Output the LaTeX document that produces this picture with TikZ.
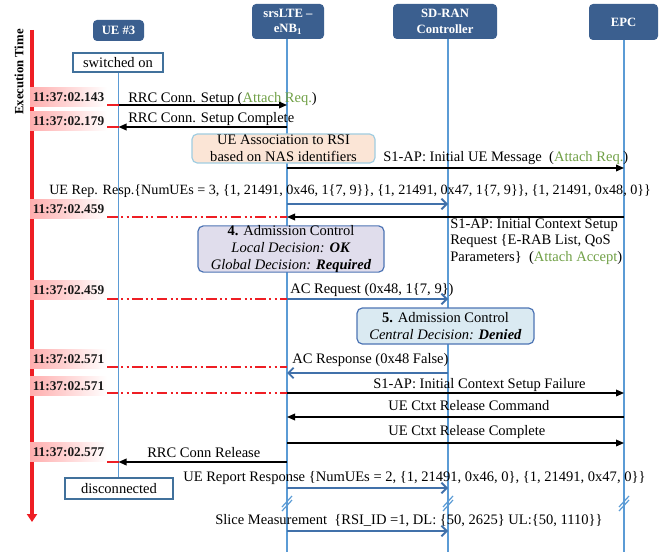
\documentclass[tikz,border=0pt]{standalone}
\usepackage{fontspec}
\setmainfont{Liberation Serif}
\usetikzlibrary{arrows.meta,calc}
\definecolor{hdrc}{RGB}{59,95,143}
\definecolor{lifec}{RGB}{91,155,213}
\definecolor{statec}{RGB}{65,113,156}
\definecolor{msgblue}{RGB}{65,113,170}
\definecolor{attachg}{RGB}{112,160,70}
\definecolor{peach}{RGB}{251,229,214}
\definecolor{peachb}{RGB}{160,205,225}
\definecolor{lav}{RGB}{224,221,236}
\definecolor{lblue}{RGB}{218,234,242}
\definecolor{boxb}{RGB}{77,116,180}
\definecolor{tred}{RGB}{238,30,36}
\newcommand{\gr}[1]{\textcolor{attachg}{#1}}
\begin{document}
\begin{tikzpicture}[x=0.75pt,y=-0.75pt,
  every node/.style={font=\fontsize{10.9}{12.5}\selectfont},
  hdr/.style={fill=hdrc, rounded corners=3pt, text=white, font=\bfseries\fontsize{9.5}{11.5}\selectfont, inner sep=1pt, align=center},
  life/.style={draw=lifec, line width=0.9pt},
  statebox/.style={draw=statec, fill=white, line width=0.8pt, inner sep=0pt},
  ts/.style={font=\bfseries\fontsize{10}{12}\selectfont, text=black!90, left color=red!32!white, middle color=red!70!white, right color=white, minimum width=57.75pt, minimum height=14.25pt, inner sep=0pt},
  blk/.style={line width=1pt, -{Triangle[length=6pt,width=5pt]}},
  blu/.style={draw=msgblue, line width=1.4pt, -{Straight Barb[length=4pt,width=8pt]}},
  lbl/.style={inner sep=0pt, anchor=base west},
  rtick/.style={draw=tred, line width=1pt},
  rdash/.style={draw=tred, line width=1pt, dash pattern=on 8pt off 2.5pt on 1.5pt off 2.5pt on 1.5pt off 2.5pt},
  brk/.style={draw=lifec, line width=0.9pt},
  note/.style={rounded corners=4pt, line width=0.9pt, inner sep=0pt, align=center, font=\fontsize{10.9}{12.4}\selectfont}
]
\useasboundingbox (0,0) rectangle (663,552);

% lifeline x positions
\coordinate (ue) at (118.5,0);
\coordinate (enb) at (287,0);
\coordinate (ctl) at (448,0);
\coordinate (epc) at (624,0);
\coordinate (bot) at (0,552);
\coordinate (yb) at (0,501);

% headers
\node[hdr, minimum width=38.25pt, minimum height=15.75pt] (ueh) at (118.5,30.5) {UE \#3};
\node[hdr, minimum width=54pt, minimum height=26.25pt] (enbh) at (288,21.5) {srsLTE –\\eNB\textsubscript{1}};
\node[hdr, minimum width=78pt, minimum height=26.25pt] (ctlh) at (445,21.5) {SD-RAN\\Controller};
\node[hdr, minimum width=51.75pt, minimum height=27pt] (epch) at (623.5,22) {EPC};

% state boxes
\node[statebox, minimum width=67.5pt, minimum height=14.25pt] (sw) at (118,62.5) {switched on};
\node[statebox, minimum width=81pt, minimum height=15.75pt] (dc) at (119,488.5) {disconnected};

% lifelines
\draw[life] (ue |- sw.south) -- (ue |- dc.north);
\draw[life] (enb |- enbh.south) -- (enb |- bot);
\draw[life] (ctl |- ctlh.south) -- (ctl |- bot);
\draw[life] (epc |- epch.south) -- (epc |- bot);
\foreach \l in {enb,ctl,epc}{
  \draw[brk] ($(\l |- yb)+(-5,6)$) -- ++(10,-11);
  \draw[brk] ($(\l |- yb)+(-5,10)$) -- ++(10,-11);
}

% execution time axis
\coordinate (ax1) at (32,30);
\coordinate (ax2) at (32,522);
\draw[tred, line width=2.3pt, -{Triangle[length=6pt,width=7.5pt]}] (ax1) -- (ax2);
\node[rotate=90, font=\bfseries\fontsize{9.5}{11}\selectfont] (et) at (19,72) {Execution Time};

% message levels
\coordinate (y1) at (0,105);
\coordinate (y2) at (0,127);
\coordinate (y4) at (0,168);
\coordinate (y5) at (0,204);
\coordinate (y6) at (0,217);
\coordinate (y8) at (0,299);
\coordinate (y9) at (0,367);
\coordinate (y10) at (0,373);
\coordinate (y11) at (0,393);
\coordinate (y12) at (0,417);
\coordinate (y13) at (0,443);
\coordinate (y14) at (0,462);
\coordinate (y15) at (0,488);
\coordinate (y16) at (0,531);

% notes
\node[note, draw=peachb, fill=peach, minimum width=137.25pt, minimum height=21.75pt] (assoc) at (283.5,148.5) {UE Association to RSI\\based on NAS identifiers};
\node[note, draw=boxb, fill=lav, minimum width=139.5pt, minimum height=34.5pt] (ac4) at (291,249) {\textbf{4.} Admission Control\\\textit{Local Decision:} \textbf{\textit{OK}}\\\textit{Global Decision:} \textbf{\textit{Required}}};
\node[note, draw=boxb, fill=lblue, minimum width=132.75pt, minimum height=27pt] (ac5) at (445.5,326) {\textbf{5.} Admission Control\\\textit{Central Decision:} \textbf{\textit{Denied}}};

% timestamps
\node[ts] (t1) at (68.5,97) {11:37:02.143};
\node[ts] (t2) at (68.5,121) {11:37:02.179};
\node[ts] (t3) at (68.5,209) {11:37:02.459};
\node[ts] (t4) at (68.5,290) {11:37:02.459};
\node[ts] (t5) at (68.5,359) {11:37:02.571};
\node[ts] (t6) at (68.5,386) {11:37:02.571};
\node[ts] (t7) at (68.5,452) {11:37:02.577};

\draw[rtick] (t1.east |- y1) -- (ue |- y1);
\draw[rtick] (t2.east |- y2) -- (ue |- y2);
\draw[rdash] (t3.east |- y6) -- (enb |- y6);
\draw[rdash] (t4.east |- y8) -- (enb |- y8);
\draw[rdash] (t5.east |- y9) -- (enb |- y9);
\draw[rdash] (t6.east |- y11) -- (enb |- y11);
\draw[rtick] (t7.east |- y14) -- (ue |- y14);

% messages
\draw[blk] (ue |- y1) -- (enb |- y1);
\draw[blk] (enb |- y2) -- (ue |- y2);
\draw[blk] (enb |- y4) -- (epc |- y4);
\draw[blu] (enb |- y5) -- (ctl |- y5);
\draw[blk] (epc |- y6) -- (enb |- y6);
\draw[blu] (enb |- y8) -- (ctl |- y8);
\draw[blu] (ctl |- y10) -- (enb |- y10);
\draw[blk] (enb |- y11) -- (epc |- y11);
\draw[blk] (epc |- y12) -- (enb |- y12);
\draw[blk] (enb |- y13) -- (epc |- y13);
\draw[blk] (enb |- y14) -- (ue |- y14);
\draw[blu] (enb |- y15) -- (ctl |- y15);
\draw[blu] (enb |- y16) -- (ctl |- y16);

% labels
\node[lbl] (l1) at (128,103) {RRC Conn. Setup (\gr{Attach Req.})};
\node[lbl] (l2) at (128,123) {RRC Conn. Setup Complete};
\node[lbl] (l4) at (383,162) {S1-AP: Initial UE Message\ \ (\gr{Attach Req.})};
\node[lbl, font=\fontsize{10.6}{12.5}\selectfont] (l5) at (49,195) {UE Rep. Resp.\{NumUEs = 3, \{1, 21491, 0x46, 1\{7, 9\}\}, \{1, 21491, 0x47, 1\{7, 9\}\}, \{1, 21491, 0x48, 0\}\}};
\node[inner sep=0pt, anchor=north west, align=left, font=\fontsize{10.9}{12.4}\selectfont] (l6) at (450,218) {S1-AP: Initial Context Setup\\Request \{E-RAB List, QoS\\Parameters\}\ \ (\gr{Attach Accept})};
\node[lbl] (l8) at (290,293) {AC Request (0x48, 1\{7, 9\})};
\node[lbl] (l10) at (292,363) {AC Response (0x48 False)};
\node[lbl] (l11) at (373,388) {S1-AP: Initial Context Setup Failure};
\node[lbl] (l12) at (388,410) {UE Ctxt Release Command};
\node[lbl] (l13) at (388,435) {UE Ctxt Release Complete};
\node[lbl] (l14) at (147,457) {RRC Conn Release};
\node[lbl] (l15) at (183,481) {UE Report Response \{NumUEs = 2, \{1, 21491, 0x46, 0\}, \{1, 21491, 0x47, 0\}\}};
\node[lbl] (l16) at (215,524) {Slice Measurement\ \ \{RSI\_ID =1, DL: \{50, 2625\} UL:\{50, 1110\}\}};
\end{tikzpicture}
\end{document}
